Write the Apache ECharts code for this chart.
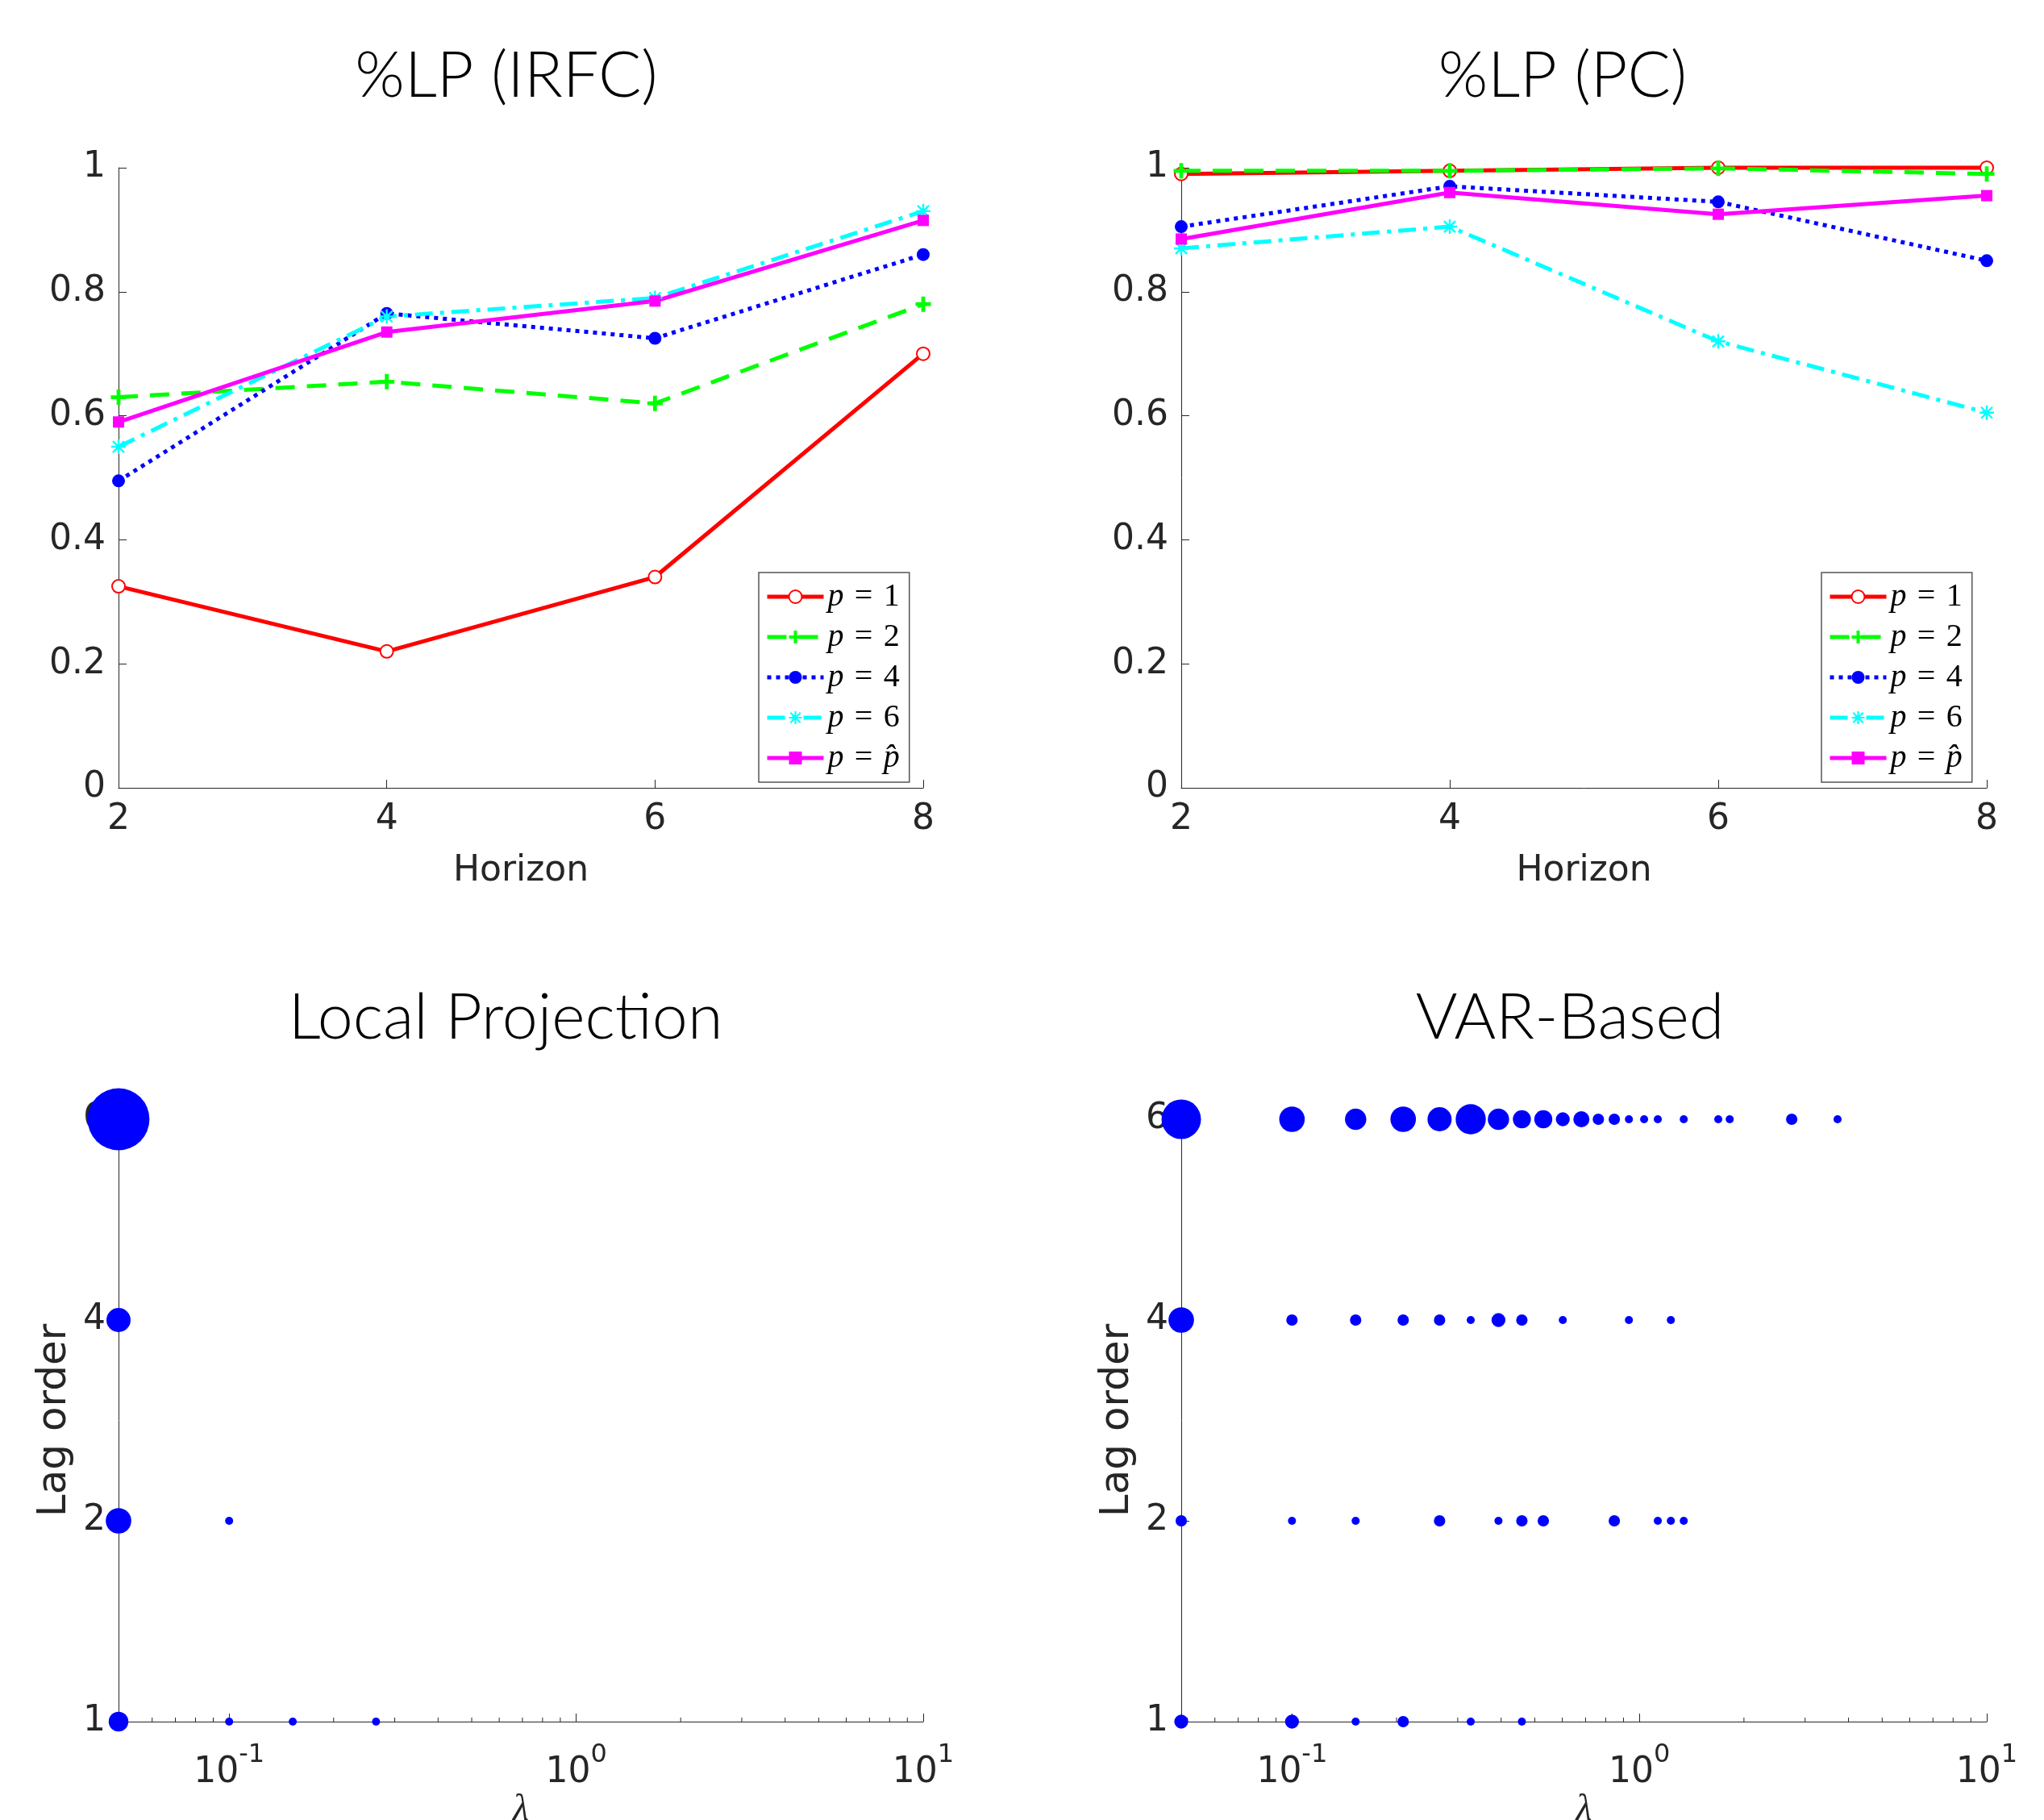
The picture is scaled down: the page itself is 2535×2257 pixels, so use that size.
<!DOCTYPE html>
<html><head><meta charset="utf-8">
<script src="https://cdn.jsdelivr.net/npm/echarts@6/dist/echarts.min.js"></script>
<style>html,body{margin:0;padding:0;background:#fff}#c{width:2535px;height:2257px}</style>
</head><body><div id="c"></div>
<script>
// ---------- data ----------
const horizons = [2, 4, 6, 8];
const seriesNames = ['p1', 'p2', 'p4', 'p6', 'phat'];
const seriesLabels = ['1', '2', '4', '6', 'hat'];

// %LP (IRFC)
const irfcP1   = [0.325, 0.22, 0.34, 0.70];
const irfcP2   = [0.63, 0.655, 0.62, 0.78];
const irfcP4   = [0.495, 0.765, 0.725, 0.86];
const irfcP6   = [0.55, 0.76, 0.79, 0.93];
const irfcPhat = [0.59, 0.735, 0.785, 0.915];

// %LP (PC)
const pcP1   = [0.99, 0.995, 1.0, 1.0];
const pcP2   = [0.995, 0.995, 0.999, 0.99];
const pcP4   = [0.905, 0.97, 0.945, 0.85];
const pcP6   = [0.87, 0.905, 0.72, 0.605];
const pcPhat = [0.885, 0.96, 0.925, 0.955];

const lagCategories = ['1', '2', '4', '6'];
const lambdaMin = 0.048;
const lambdaMax = 10;
const minorTickValues = [0.05,0.06,0.07,0.08,0.09,0.2,0.3,0.4,0.5,0.6,0.7,0.8,0.9,2,3,4,5,6,7,8,9];

// Local Projection: lambda, lag order, frequency
const lpLambda = [0.048, 0.048, 0.048, 0.1, 0.048, 0.1, 0.1525, 0.265];
const lpLag    = [6, 4, 2, 2, 1, 1, 1, 1];
const lpCount  = [59, 9, 10, 1, 6, 1, 1, 1];

// VAR-Based: lambda, lag order, frequency
const varLambda6 = [0.048,0.1,0.1525,0.209,0.266,0.327,0.393,0.459,0.529,0.602,0.681,0.762,0.847,0.933,1.032,1.13,1.342,1.687,1.82,2.745,3.72];
const varCount6  = [24,10,7,10,9,14,7,5,5,3,4,2,2,1,1,1,1,1,1,2,1];
const varLambda4 = [0.048,0.1,0.1525,0.209,0.266,0.327,0.393,0.459,0.602,0.933,1.232];
const varCount4  = [10,2,2,2,2,1,3,2,1,1,1];
const varLambda2 = [0.048,0.1,0.1525,0.266,0.393,0.459,0.529,0.847,1.13,1.232,1.342];
const varCount2  = [2,1,1,2,1,2,2,2,1,1,1];
const varLambda1 = [0.048,0.1,0.1525,0.209,0.327,0.459];
const varCount1  = [3,3,1,2,1,1];

// ---------- styles ----------
const AX = '#262626';
const FONT = 'DejaVu Sans';
const colors = ['#ff0000', '#00ff00', '#0000ff', '#00ffff', '#ff00ff'];
const plusPath = 'path://M7.5,0L12.5,0L12.5,7.5L20,7.5L20,12.5L12.5,12.5L12.5,20L7.5,20L7.5,12.5L0,12.5L0,7.5L7.5,7.5Z';
const starPath = 'path://M8.8,1L11.2,1L11.2,19L8.8,19Z M1,8.8L19,8.8L19,11.2L1,11.2Z M3.85,2.15L17.85,16.15L16.15,17.85L2.15,3.85Z M16.15,2.15L17.85,3.85L3.85,17.85L2.15,16.15Z';
const symbols = ['emptyCircle', plusPath, 'circle', starPath, 'rect'];
const symbolSizes = [16, 19, 16, 18, 14];
const lineTypes = ['solid', [24, 15], [5, 6], [22, 9, 5, 9], 'solid'];

const grids = [
  {left: 147, top: 208, width: 998, height: 769, outerBoundsMode: 'none', containLabel: false},
  {left: 1465, top: 208, width: 999, height: 769, outerBoundsMode: 'none', containLabel: false},
  {left: 147, top: 1388, width: 998, height: 747, outerBoundsMode: 'none', containLabel: false},
  {left: 1465, top: 1388, width: 999, height: 747, outerBoundsMode: 'none', containLabel: false}
];

function lineSeries(gi, vals) {
  return vals.map((arr, k) => ({
    type: 'line', name: seriesNames[k], xAxisIndex: gi, yAxisIndex: gi,
    data: horizons.map((h, i) => [h, arr[i]]),
    clip: false,
    symbol: symbols[k], symbolSize: symbolSizes[k], showAllSymbol: true,
    lineStyle: {color: colors[k], width: 5, type: lineTypes[k]},
    itemStyle: {color: colors[k], borderColor: colors[k], borderWidth: k === 0 ? 3.5 : 0},
    emphasis: {disabled: true}
  }));
}

function bubbleSeries(gi, lambdas, lags, counts) {
  return {
    type: 'scatter', xAxisIndex: gi, yAxisIndex: gi, clip: false,
    data: lambdas.map((l, i) => [l, lagCategories.indexOf(String(lags[i])), counts[i]]),
    symbol: 'circle',
    symbolSize: v => 10 * Math.sqrt(v[2]),
    itemStyle: {color: '#0000ff', opacity: 1},
    emphasis: {disabled: true}, z: 3
  };
}

function minorTicks(gi) {
  return {
    type: 'custom', xAxisIndex: gi, yAxisIndex: gi, silent: true, clip: false, z: 1,
    data: minorTickValues.map(v => [v, 0]),
    encode: {x: 0, y: 1},
    renderItem: (params, api) => {
      const p = api.coord([api.value(0), 0]);
      return {type: 'line', shape: {x1: p[0], y1: p[1], x2: p[0], y2: p[1] - 5},
              style: {stroke: AX, lineWidth: 1}};
    }
  };
}

const axisLineStyle = {show: true, onZero: false, lineStyle: {color: AX, width: 1}};
const tickStyle = {show: true, inside: true, length: 10, lineStyle: {color: AX, width: 1}};

function topX(gi) {
  return {type: 'value', gridIndex: gi, min: 2, max: 8, interval: 2,
    name: 'Horizon', nameLocation: 'middle', nameGap: 82,
    nameTextStyle: {fontFamily: FONT, fontSize: 44, color: AX},
    axisLine: axisLineStyle, axisTick: tickStyle, splitLine: {show: false},
    axisLabel: {fontFamily: FONT, fontSize: 44, color: AX, margin: 18}};
}
function topY(gi) {
  return {type: 'value', gridIndex: gi, min: 0, max: 1, interval: 0.2,
    axisLine: axisLineStyle, axisTick: tickStyle, splitLine: {show: false},
    axisLabel: {fontFamily: FONT, fontSize: 44, color: AX, margin: 16,
      formatter: v => String(+v.toFixed(1))}};
}
function botX(gi) {
  return {type: 'log', gridIndex: gi, logBase: 10, min: lambdaMin, max: lambdaMax, splitNumber: 3,
    name: 'λ', nameLocation: 'middle', nameGap: 87,
    nameTextStyle: {fontFamily: 'Liberation Serif', fontStyle: 'italic', fontSize: 46, color: AX},
    axisLine: axisLineStyle, axisTick: tickStyle, splitLine: {show: false}, minorTick: {show: false},
    axisLabel: {color: AX, margin: 26,
      formatter: v => {
        const e = Math.log10(v);
        if (Math.abs(e - Math.round(e)) > 1e-6) return '';
        return '{b|10}{s|' + Math.round(e) + '}';
      },
      rich: {
        b: {fontFamily: FONT, fontSize: 44, color: AX, lineHeight: 60, verticalAlign: 'bottom'},
        s: {fontFamily: FONT, fontSize: 32, color: AX, lineHeight: 32, verticalAlign: 'top'}
      }}};
}
function botY(gi) {
  return {type: 'category', gridIndex: gi, data: lagCategories, boundaryGap: false,
    name: 'Lag order', nameLocation: 'middle', nameGap: 54,
    nameTextStyle: {fontFamily: FONT, fontSize: 50, color: AX},
    axisLine: axisLineStyle, axisTick: tickStyle, splitLine: {show: false},
    axisLabel: {fontFamily: FONT, fontSize: 44, color: AX, margin: 16}};
}

function legend(left) {
  return {
    left: left, top: 710, orient: 'vertical', selectedMode: false,
    data: seriesNames, itemWidth: 70, itemHeight: 20, itemGap: 10,
    padding: [10, 12, 10, 8], borderColor: '#555', borderWidth: 1.5, backgroundColor: '#fff',
    borderRadius: 0,
    lineStyle: {width: 5},
    formatter: name => {
      const k = seriesNames.indexOf(name);
      if (seriesLabels[k] === 'hat') return '{i|p}{n|\u2004=\u2004}{i|p\u0302}';
      return '{i|p}{n|\u2004=\u2004' + seriesLabels[k] + '}';
    },
    textStyle: {fontFamily: 'Liberation Serif', fontSize: 40, color: '#000', lineHeight: 38,
      rich: {
        i: {fontFamily: 'Liberation Serif', fontStyle: 'italic', fontSize: 40, lineHeight: 38, color: '#000'},
        n: {fontFamily: 'Liberation Serif', fontSize: 40, lineHeight: 38, color: '#000'}
      }}
  };
}

const titleStyle = {fontFamily: 'Lato', fontWeight: 300, fontSize: 79, color: '#000'};

const option = {
  animation: false,
  backgroundColor: '#fff',
  title: [
    {text: '%LP (IRFC)', left: 623, top: 50, textAlign: 'center', textStyle: titleStyle},
    {text: '%LP (PC)', left: 1933, top: 50, textAlign: 'center', textStyle: titleStyle},
    {text: 'Local Projection', left: 622, top: 1218, textAlign: 'center', textStyle: titleStyle},
    {text: 'VAR-Based', left: 1942, top: 1218, textAlign: 'center', textStyle: titleStyle}
  ],
  legend: [legend(941), legend(2259)],
  grid: grids,
  xAxis: [topX(0), topX(1), botX(2), botX(3)],
  yAxis: [topY(0), topY(1), botY(2), botY(3)],
  series: [
    ...lineSeries(0, [irfcP1, irfcP2, irfcP4, irfcP6, irfcPhat]),
    ...lineSeries(1, [pcP1, pcP2, pcP4, pcP6, pcPhat]),
    minorTicks(2), minorTicks(3),
    bubbleSeries(2, lpLambda, lpLag, lpCount),
    bubbleSeries(3, varLambda6, varLambda6.map(() => 6), varCount6),
    bubbleSeries(3, varLambda4, varLambda4.map(() => 4), varCount4),
    bubbleSeries(3, varLambda2, varLambda2.map(() => 2), varCount2),
    bubbleSeries(3, varLambda1, varLambda1.map(() => 1), varCount1)
  ]
};

const chart = echarts.init(document.getElementById('c'), null, {renderer: 'canvas'});
chart.setOption(option);
</script>
</body></html>
